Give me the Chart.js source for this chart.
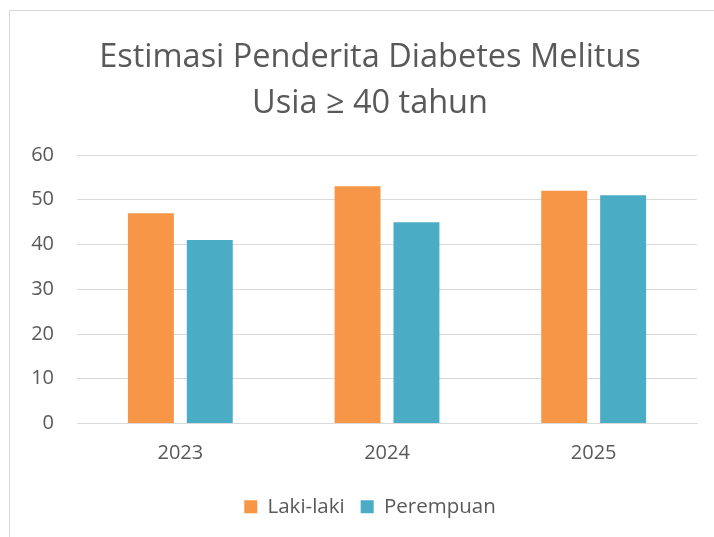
<!DOCTYPE html>
<html lang="id">
<head>
  <meta charset="UTF-8">
  <title>Estimasi Penderita Diabetes Melitus</title>
  <script src="https://cdn.jsdelivr.net/npm/chart.js"></script>
  <style>
    html, body {
      margin: 0;
      padding: 0;
      background: #fff;
      overflow: hidden;
    }

    #frame {
      position: absolute;
      left: 9px;
      top: 10px;
      width: 720px;
      height: 540px;
      border: 1px solid #d9d9d9;
      background: #fff;
    }

    canvas {
      display: block;
    }
  </style>
</head>
<body>
  <div id="frame">
    <canvas id="diabetesChart" width="720" height="540"></canvas>
  </div>

  <script>
    // Data
    const years = ['2023', '2024', '2025'];
    const lakiLaki = [47, 53, 52];
    const perempuan = [41, 45, 51];
    const titleLines = ['Estimasi Penderita Diabetes Melitus', 'Usia \u2265 40 tahun'];

    const textColor = '#595959';
    const gridColor = '#d9d9d9';
    const fontFamily = "'Open Sans', sans-serif";

    const ctx = document.getElementById('diabetesChart').getContext('2d');
    const chart = new Chart(ctx, {
      type: 'bar',
      data: {
        labels: years,
        datasets: [
          { label: 'Laki-laki', data: lakiLaki, backgroundColor: '#F79646', borderWidth: 0 },
          { label: 'Perempuan', data: perempuan, backgroundColor: '#4BACC6', borderWidth: 0 }
        ]
      },
      options: {
        responsive: false,
        animation: false,
        categoryPercentage: 0.57,
        barPercentage: 0.78,
        layout: { padding: { top: 0, right: 0, bottom: 24, left: 0 } },
        plugins: {
          title: {
            display: true,
            text: titleLines,
            color: textColor,
            font: { family: fontFamily, size: 32.5, weight: 'normal', lineHeight: 1.4 },
            padding: { top: 24, bottom: 29 }
          },
          legend: {
            position: 'bottom',
            labels: {
              color: textColor,
              font: { family: fontFamily, size: 20.5 },
              boxWidth: 13,
              boxHeight: 13,
              padding: 16
            }
          },
          tooltip: { enabled: false }
        },
        scales: {
          x: {
            grid: { display: false },
            border: { display: true, color: gridColor },
            ticks: { color: textColor, font: { family: fontFamily, size: 20 }, padding: 10 },
            afterFit: (scale) => { scale.height = 57; }
          },
          y: {
            min: 0,
            max: 60,
            ticks: { stepSize: 10, color: textColor, font: { family: fontFamily, size: 20 }, padding: 23 },
            grid: { color: gridColor, drawTicks: false },
            border: { display: false },
            afterFit: (scale) => { scale.width = 67; }
          },
          // empty right-hand axis, only keeps the plot clear of the frame's right side
          spacer: {
            position: 'right',
            ticks: { display: false },
            grid: { display: false },
            border: { display: false },
            afterFit: (scale) => { scale.width = 33; }
          }
        }
      }
    });
  </script>
</body>
</html>
